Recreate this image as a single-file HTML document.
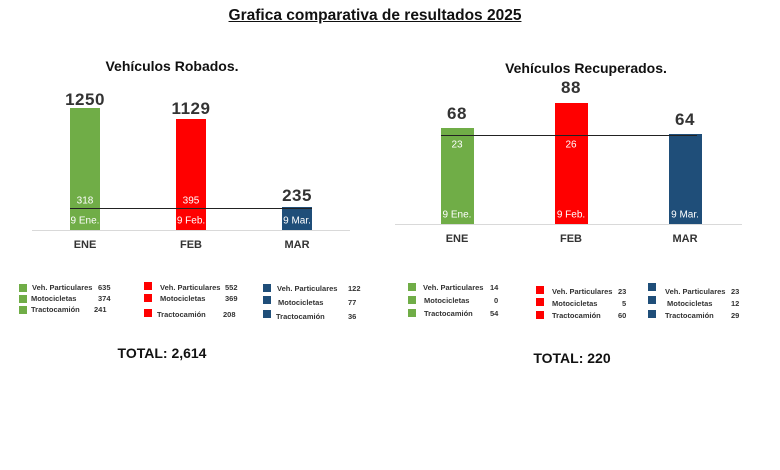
<!DOCTYPE html>
<html><head><meta charset="utf-8"><style>
body{margin:0;width:780px;height:470px;background:#fff;position:relative;overflow:hidden;font-family:"Liberation Sans",sans-serif}
div{position:absolute;white-space:nowrap}
.c{transform:translate(-50%,-50%)}
.v{font-weight:bold;font-size:17px;color:#333;letter-spacing:0.5px}
.m{font-weight:bold;font-size:11px;color:#333}
.w{color:#fff;font-size:10px}
.lg{font-weight:bold;font-size:7.5px;color:#333}
.sq{width:8px;height:8px}
</style></head><body>
<div class="c" style="left:375px;top:16px;font-weight:bold;font-size:15.5px;text-decoration:underline;color:#111">Grafica comparativa de resultados 2025</div>
<div class="c" style="left:172px;top:66px;font-weight:bold;font-size:14px;color:#111">Vehículos Robados.</div>
<div class="c" style="left:586px;top:68px;font-weight:bold;font-size:14px;color:#111">Vehículos Recuperados.</div>

<div style="left:32px;top:230px;width:318px;height:1px;background:#d9d9d9"></div>
<div style="left:70px;top:108px;width:30px;height:122px;background:#70ad47"></div>
<div style="left:176px;top:119px;width:30px;height:111px;background:#ff0000"></div>
<div style="left:282px;top:207px;width:30px;height:23px;background:#1f4e79"></div>
<div style="left:70px;top:208px;width:242px;height:1px;background:#222"></div>
<div class="c v" style="left:85px;top:100px">1250</div>
<div class="c v" style="left:191px;top:109px">1129</div>
<div class="c v" style="left:297px;top:196px">235</div>
<div class="c w" style="left:85px;top:201px">318</div>
<div class="c w" style="left:191px;top:201px">395</div>
<div class="c w" style="left:85px;top:221px">9 Ene.</div>
<div class="c w" style="left:191px;top:221px">9 Feb.</div>
<div class="c w" style="left:297px;top:221px">9 Mar.</div>
<div class="c m" style="left:85px;top:245px">ENE</div>
<div class="c m" style="left:191px;top:245px">FEB</div>
<div class="c m" style="left:297px;top:245px">MAR</div>

<div style="left:395px;top:224px;width:347px;height:1px;background:#d9d9d9"></div>
<div style="left:441px;top:128px;width:33px;height:96px;background:#70ad47"></div>
<div style="left:555px;top:103px;width:33px;height:121px;background:#ff0000"></div>
<div style="left:669px;top:134px;width:33px;height:90px;background:#1f4e79"></div>
<div style="left:441px;top:135px;width:256px;height:1px;background:#222"></div>
<div class="c v" style="left:457px;top:114px">68</div>
<div class="c v" style="left:571px;top:88px">88</div>
<div class="c v" style="left:685px;top:120px">64</div>
<div class="c w" style="left:457px;top:145px">23</div>
<div class="c w" style="left:571px;top:145px">26</div>
<div class="c w" style="left:457px;top:215px">9 Ene.</div>
<div class="c w" style="left:571px;top:215px">9 Feb.</div>
<div class="c w" style="left:685px;top:215px">9 Mar.</div>
<div class="c m" style="left:457px;top:239px">ENE</div>
<div class="c m" style="left:571px;top:239px">FEB</div>
<div class="c m" style="left:685px;top:239px">MAR</div>

<div class="sq" style="left:19px;top:284px;background:#70ad47"></div><div class="lg" style="left:32px;top:283px">Veh. Particulares</div><div class="lg" style="left:98px;top:283px">635</div>
<div class="sq" style="left:19px;top:295px;background:#70ad47"></div><div class="lg" style="left:31px;top:294px">Motocicletas</div><div class="lg" style="left:98px;top:294px">374</div>
<div class="sq" style="left:19px;top:306px;background:#70ad47"></div><div class="lg" style="left:31px;top:305px">Tractocamión</div><div class="lg" style="left:94px;top:305px">241</div>
<div class="sq" style="left:144px;top:282px;background:#ff0000"></div><div class="lg" style="left:160px;top:283px">Veh. Particulares</div><div class="lg" style="left:225px;top:283px">552</div>
<div class="sq" style="left:144px;top:294px;background:#ff0000"></div><div class="lg" style="left:160px;top:294px">Motocicletas</div><div class="lg" style="left:225px;top:294px">369</div>
<div class="sq" style="left:144px;top:309px;background:#ff0000"></div><div class="lg" style="left:157px;top:310px">Tractocamión</div><div class="lg" style="left:223px;top:310px">208</div>
<div class="sq" style="left:263px;top:284px;background:#1f4e79"></div><div class="lg" style="left:277px;top:284px">Veh. Particulares</div><div class="lg" style="left:348px;top:284px">122</div>
<div class="sq" style="left:263px;top:296px;background:#1f4e79"></div><div class="lg" style="left:278px;top:298px">Motocicletas</div><div class="lg" style="left:348px;top:298px">77</div>
<div class="sq" style="left:263px;top:310px;background:#1f4e79"></div><div class="lg" style="left:276px;top:312px">Tractocamión</div><div class="lg" style="left:348px;top:312px">36</div>

<div class="sq" style="left:408px;top:283px;background:#70ad47"></div><div class="lg" style="left:423px;top:283px">Veh. Particulares</div><div class="lg" style="left:490px;top:283px">14</div>
<div class="sq" style="left:408px;top:296px;background:#70ad47"></div><div class="lg" style="left:424px;top:296px">Motocicletas</div><div class="lg" style="left:494px;top:296px">0</div>
<div class="sq" style="left:408px;top:309px;background:#70ad47"></div><div class="lg" style="left:424px;top:309px">Tractocamión</div><div class="lg" style="left:490px;top:309px">54</div>
<div class="sq" style="left:536px;top:286px;background:#ff0000"></div><div class="lg" style="left:552px;top:287px">Veh. Particulares</div><div class="lg" style="left:618px;top:287px">23</div>
<div class="sq" style="left:536px;top:298px;background:#ff0000"></div><div class="lg" style="left:552px;top:299px">Motocicletas</div><div class="lg" style="left:622px;top:299px">5</div>
<div class="sq" style="left:536px;top:311px;background:#ff0000"></div><div class="lg" style="left:552px;top:311px">Tractocamión</div><div class="lg" style="left:618px;top:311px">60</div>
<div class="sq" style="left:648px;top:283px;background:#1f4e79"></div><div class="lg" style="left:665px;top:287px">Veh. Particulares</div><div class="lg" style="left:731px;top:287px">23</div>
<div class="sq" style="left:648px;top:296px;background:#1f4e79"></div><div class="lg" style="left:667px;top:299px">Motocicletas</div><div class="lg" style="left:731px;top:299px">12</div>
<div class="sq" style="left:648px;top:310px;background:#1f4e79"></div><div class="lg" style="left:665px;top:311px">Tractocamión</div><div class="lg" style="left:731px;top:311px">29</div>

<div class="c" style="left:162px;top:353px;font-weight:bold;font-size:14px;color:#111">TOTAL: 2,614</div>
<div class="c" style="left:572px;top:358px;font-weight:bold;font-size:14px;color:#111">TOTAL: 220</div>
</body></html>
